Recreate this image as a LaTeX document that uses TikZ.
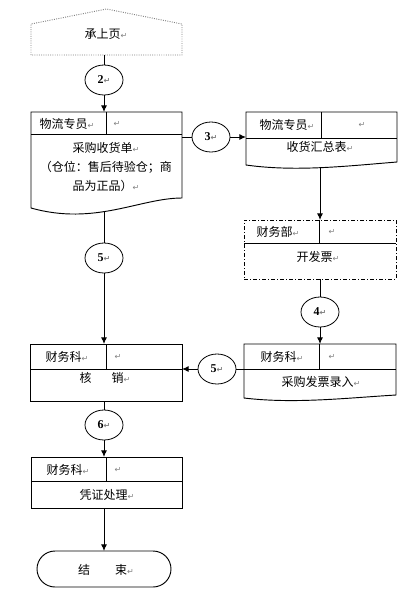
\documentclass[tikz,border=0pt]{standalone}
\usepackage{fontspec}
\setmainfont{Liberation Serif}
\newfontfamily\cjk{Noto Sans CJK SC}
\newfontfamily\dvs{DejaVu Sans}
\usetikzlibrary{shapes.geometric,arrows.meta,fit,calc}
\newcommand\crmark{{\dvs\color{gray}\fontsize{6}{6}\selectfont ↵}}
\begin{document}
\begin{tikzpicture}[x={(0.75pt,0)},y={(0,-0.75pt)},font=\cjk\fontsize{9}{11}\selectfont,inner sep=0pt,line width=0.7pt,
  flow/.style={-{Latex[length=5pt,width=4.5pt]}},
  conn/.style={ellipse,draw,line width=0.6pt,minimum width=28.5pt,minimum height=22.5pt,font=\rmfamily\bfseries\fontsize{9}{11}\selectfont},
  area/.style={fit={#1},inner sep=0pt,outer sep=0pt}]
  \useasboundingbox (0,0) rectangle (407,608);
  % off-page connector
  \node[area={(31,9) (182,55)}] (top) {};
  \draw[densely dotted,gray] (top.south west) -- (31,24) -- (top.north) -- (182,24) -- (top.south east) -- cycle;
  \node (ttop) at (106,34) {承上页\crmark};
  % documents and boxes
  \node[area={(31,112) (182,208)}] (b1) {};
  \draw (b1.north west) -- (b1.north east) -- (182,198) .. controls +(-42,0) and +(64,18) .. (b1.south west) -- cycle;
  \draw (31,134) -- (182,134) (106,112) -- (106,134);
  \node[area={(246,112) (397,165)}] (b2) {};
  \draw (b2.north west) -- (b2.north east) -- (397,162) .. controls +(-50,4) and +(50,7) .. (b2.south west) -- cycle;
  \draw (246,138) -- (397,138) (321,112) -- (321,138);
  \node[area={(244,220) (396,279)},draw,dash pattern=on 3pt off 1.5pt on 0.75pt off 1.5pt] (b3) {};
  \draw (244,243) -- (396,243) (319,220) -- (319,243);
  \node[area={(244,344) (396,398)}] (b4) {};
  \draw (b4.north west) -- (b4.north east) -- (396,395) .. controls +(-50,3) and +(50,6) .. (b4.south west) -- cycle;
  \draw (244,369) -- (396,369) (319,344) -- (319,369);
  \node[area={(30,344) (182,401)},draw] (b5) {};
  \draw (30,369) -- (182,369) (106,344) -- (106,369);
  \node[area={(31,457) (182,508)},draw] (b6) {};
  \draw (31,481) -- (182,481) (106,457) -- (106,481);
  \node[area={(37,551) (171,587)},draw,rounded corners=13.5pt] (end) {};
  % texts
  \foreach \N/\X/\Y/\T in {b1h/67/124/物流专员, b2h/287/125/物流专员, b3h/278/232/财务部,
      b4h/282/357/财务科, b5h/67/357/财务科, b6h/68/470/财务科}
    {\node (\N) at (\X,\Y) {\T\crmark};}
  \foreach \N/\X/\Y in {b1r/117/124, b2r/362/125, b3r/332/232, b4r/332/357, b5r/118/357, b6r/118/470}
    {\node (\N) at (\X,\Y) {\crmark};}
  \node[align=center,font=\cjk\fontsize{9}{14.25}\selectfont] (b1t) at (106,167)
    {采购收货单\crmark\\（仓位：售后待验仓；商\\品为正品）\crmark};
  \node (b2t) at (320,147) {收货汇总表\crmark};
  \node (b3t) at (318,257) {开发票\crmark};
  \node (b4t) at (321,382) {采购发票录入\crmark};
  \node (b5t) at (105,378) {核\hspace{1.65em}销\crmark};
  \node (b6t) at (107,495) {凭证处理\crmark};
  \node (endt) at (106,570) {结\hspace{2.1em}束\crmark};
  % connectors
  \node[conn] (c2) at (104,80) {2\crmark};
  \node[conn] (c3) at (211,137) {3\crmark};
  \node[conn] (c4) at (320,312) {4\crmark};
  \node[conn] (c5r) at (217,369) {5\crmark};
  \node[conn] (c5l) at (104,258) {5\crmark};
  \node[conn] (c6) at (104,425) {6\crmark};
  % flow lines
  \draw (c2 |- top.south) -- (c2.north);
  \draw[flow] (c2.south) -- (c2 |- b1.north);
  \draw (c3.west) -- (c3 -| b1.east);
  \draw[flow] (c3.east) -- (c3 -| b2.west);
  \draw[flow] ($(c4 |- b2.south)+(0,3)$) -- (c4 |- b3.north);
  \draw (c4 |- b3.south) -- (c4.north);
  \draw[flow] (c4.south) -- (c4 |- b4.north);
  \draw (c5r.east) -- (c5r -| b4.west);
  \draw[flow] (c5r.west) -- (c5r -| b5.east);
  \draw ($(c5l |- b1.south)+(0,4)$) -- (c5l.north);
  \draw[flow] (c5l.south) -- (c5l |- b5.north);
  \draw (c6 |- b5.south) -- (c6.north);
  \draw[flow] (c6.south) -- (c6 |- b6.north);
  \draw[flow] (c6 |- b6.south) -- (c6 |- end.north);
\end{tikzpicture}
\end{document}
